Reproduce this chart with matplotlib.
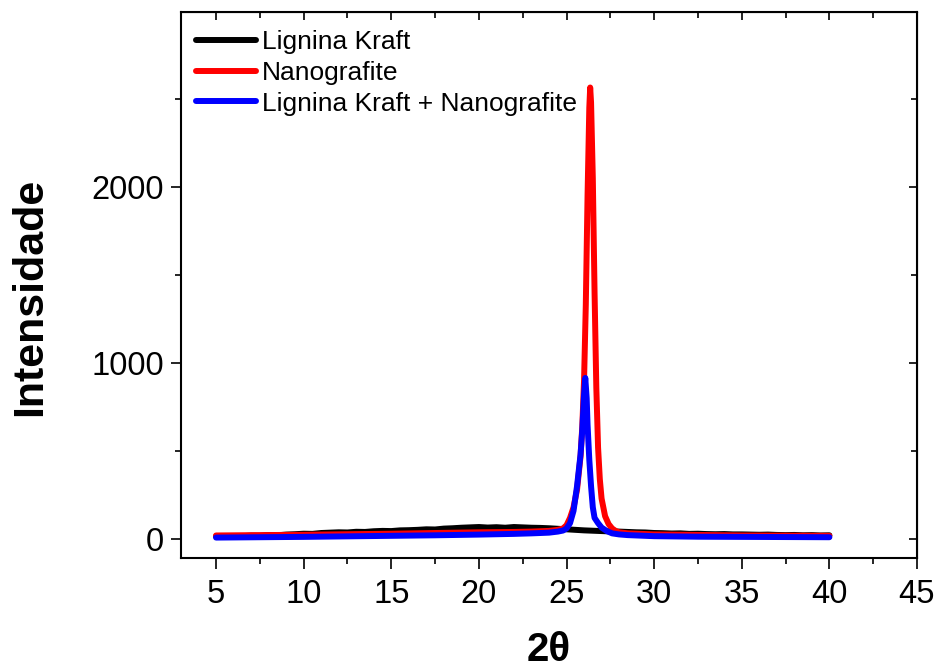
import matplotlib
matplotlib.use("Agg")
import matplotlib.pyplot as plt
from matplotlib.ticker import MultipleLocator

plt.rcParams['font.family'] = ['Liberation Sans', 'DejaVu Sans']

# Lignina Kraft
x_lk = [5, 5.5, 6, 6.5, 7, 7.5, 8, 8.5, 9, 9.5, 10, 10.5, 11, 11.5, 12, 12.5, 13, 13.5,
        14, 14.5, 15, 15.5, 16, 16.5, 17, 17.5, 18, 18.5, 19, 19.5, 20, 20.5, 21, 21.5,
        22, 22.5, 23, 23.5, 24, 24.5, 25, 25.5, 26, 26.5, 27, 27.5, 28, 28.5, 29, 29.5,
        30, 30.5, 31, 31.5, 32, 32.5, 33, 33.5, 34, 34.5, 35, 35.5, 36, 36.5, 37, 37.5,
        38, 38.5, 39, 39.5, 40]
y_lk = [15, 14, 17, 16, 19, 18, 22, 21, 25, 27, 30, 29, 34, 36, 38, 37, 41, 40,
        44, 46, 45, 49, 50, 52, 55, 54, 59, 61, 64, 66, 68, 65, 67, 64,
        68, 66, 64, 63, 61, 58, 55, 52, 49, 47, 45, 43, 42, 40, 38, 37,
        34, 33, 31, 32, 29, 30, 28, 27, 28, 26, 26, 25, 24, 25, 23, 22,
        23, 21, 22, 20, 21]

# Nanografite
x_ng = [5, 7.5, 10, 12.5, 15, 17.5, 20, 22, 23, 24, 24.5, 24.8, 25.0, 25.2, 25.4,
        25.6, 25.8, 25.9, 26.0, 26.1, 26.2, 26.3, 26.35, 26.4, 26.5, 26.6, 26.7,
        26.8, 26.9, 27.0, 27.2, 27.4, 27.6, 27.8, 28.0, 28.5, 29, 30, 32.5, 35, 37.5, 40]
y_ng = [20, 22, 24, 27, 30, 34, 38, 40, 42, 46, 52, 60, 78, 120, 180,
        280, 470, 640, 900, 1330, 1950, 2450, 2565, 2480, 2050, 1400, 860,
        520, 340, 230, 130, 85, 60, 46, 38, 32, 30, 26, 23, 20, 19, 18]

# Lignina Kraft + Nanografite
x_lkng = [5, 7.5, 10, 12.5, 15, 17.5, 20, 22, 23, 24, 24.5, 24.8, 25.0, 25.2, 25.4,
          25.5, 25.6, 25.7, 25.8, 25.9, 26.0, 26.07, 26.15, 26.2, 26.3, 26.4, 26.5,
          26.6, 26.8, 27.0, 27.3, 27.6, 28.0, 28.5, 30, 32.5, 35, 37.5, 40]
y_lkng = [8, 10, 12, 15, 18, 21, 25, 29, 32, 36, 42, 48, 60, 90, 160,
          230, 300, 390, 480, 620, 820, 915, 800, 650, 450, 300, 180,
          120, 90, 65, 45, 32, 26, 22, 16, 13, 12, 11, 10]

labels = ["Lignina Kraft", "Nanografite", "Lignina Kraft + Nanografite"]
colors = ["black", "red", "blue"]

fig = plt.figure(figsize=(9.36, 6.68), dpi=100)
ax = fig.add_axes([181/936, 1 - 558/668, (917-181)/936, (558-12)/668])

for xs, ys, lab, col in zip([x_lk, x_ng, x_lkng], [y_lk, y_ng, y_lkng], labels, colors):
    ax.plot(xs, ys, color=col, lw=4.3, label=lab, solid_capstyle='round', solid_joinstyle='round')

ax.set_xlim(3, 45)
ax.set_ylim(-108, 2994)
ax.xaxis.set_major_locator(MultipleLocator(5))
ax.xaxis.set_minor_locator(MultipleLocator(2.5))
ax.yaxis.set_major_locator(MultipleLocator(1000))
ax.yaxis.set_minor_locator(MultipleLocator(500))

for s in ax.spines.values():
    s.set_linewidth(1.5)

ax.tick_params(which='both', direction='out', top=False, right=False, width=1.2, labelsize=23.5)
ax.tick_params(axis='x', which='major', length=8, pad=7)
ax.tick_params(axis='y', which='major', length=7.5, pad=5)
ax.tick_params(which='minor', length=4)

# inward ticks on top and right
axt = ax.secondary_xaxis('top')
axt.xaxis.set_major_locator(MultipleLocator(5))
axt.xaxis.set_minor_locator(MultipleLocator(2.5))
axt.tick_params(which='both', direction='in', labeltop=False, width=1.2)
axt.tick_params(which='major', length=6)
axt.tick_params(which='minor', length=4)
axr = ax.secondary_yaxis('right')
axr.yaxis.set_major_locator(MultipleLocator(1000))
axr.yaxis.set_minor_locator(MultipleLocator(500))
axr.tick_params(which='both', direction='in', labelright=False, width=1.2)
axr.tick_params(which='major', length=6)
axr.tick_params(which='minor', length=4)

ax.set_ylabel("Intensidade", fontsize=31, fontweight='bold')
ax.yaxis.set_label_coords(-0.178, 0.478)
ax.set_xlabel("2θ", fontsize=29, fontweight='bold')
ax.xaxis.set_label_coords(0.5, -0.133)

leg = ax.legend(loc='upper left', frameon=False, fontsize=19, handlelength=2.3,
                handletextpad=0.2, labelspacing=0.25, borderaxespad=0.3,
                bbox_to_anchor=(-0.005, 1.0))

fig.savefig("out.png", dpi=100)
